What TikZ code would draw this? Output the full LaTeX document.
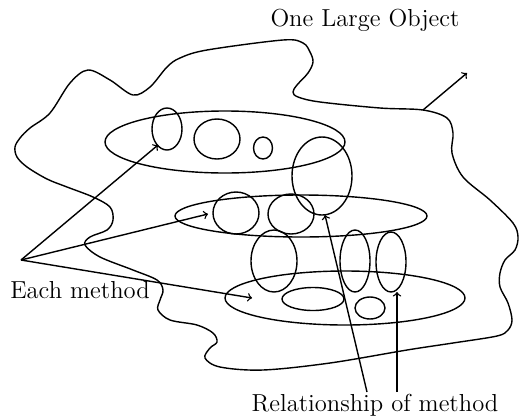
\documentclass[tikz,border=0pt]{standalone}
\usepackage{tikz}
\usetikzlibrary{shapes.geometric, positioning}

\begin{document}
\begin{tikzpicture}[>=to, x=0.02cm, y=-0.02cm, line width=0.8pt,
    lbl/.style={font=\fontsize{14}{17}\selectfont, inner sep=0pt}]
    \useasboundingbox (0,0) rectangle (520,416);

    % 1. The large object (free-hand outline)
    \draw plot[smooth cycle, tension=0.55] coordinates {
        (15,147) (20,138) (30,128) (50,113) (70,83) (88,70) (110,80)
        (133,95) (150,87) (167,67) (180,58) (207,50) (283,40) (303,43)
        (310,52) (313,62) (308,73) (297,85) (293,92) (298,97) (320,102)
        (380,108) (423,110) (447,118) (453,133) (452,153) (463,177)
        (490,200) (513,223) (518,237) (515,250) (505,260) (500,273)
        (500,287) (508,303) (512,320) (508,330) (497,336) (453,343)
        (407,350) (330,363) (263,370) (220,367) (205,358) (210,348)
        (217,342) (213,333) (197,325) (170,320) (158,310) (160,300)
        (163,290) (157,280) (133,270) (100,257) (85,245) (90,237)
        (107,230) (113,220) (110,207) (93,197) (67,187) (47,179)
        (27,167) (17,157)};
    \node[lbl] (obj) at (365,20) {One Large Object};
    \coordinate (objedge) at (423,110);
    \coordinate (objtip) at (467,73);
    \draw[->] (objedge) -- (objtip);

    % 2. The three methods (flat ellipses)
    \draw (225,142) ellipse [x radius=120, y radius=31];
    \draw (301,216) ellipse [x radius=126, y radius=21];
    \draw (345,298) ellipse [x radius=120, y radius=27];

    % 3. Parts inside each method
    \draw (167,129) ellipse [x radius=15, y radius=21];
    \draw (217,139) ellipse [x radius=23, y radius=20];
    \draw (263,148) ellipse [x radius=9.5, y radius=11];
    \draw (236,213) ellipse [x radius=23, y radius=21];
    \draw (291,214) ellipse [x radius=23, y radius=20];
    \draw (313,299) ellipse [x radius=31, y radius=11.5];
    \draw (370,308) ellipse [x radius=15, y radius=11];

    % 4. Relationships between methods
    \draw (322,176) ellipse [x radius=30, y radius=39];
    \draw (274,261) ellipse [x radius=23, y radius=31];
    \draw (355,261) ellipse [x radius=15, y radius=31];
    \draw (391,262) ellipse [x radius=15, y radius=30];

    % 5. Labels and pointers
    \node[lbl] (each) at (80,290) {Each method};
    \coordinate (src) at (21,260);
    \coordinate (m1) at (158,145);
    \coordinate (m2) at (208,214);
    \coordinate (m3) at (252,298);
    \draw[->] (src) -- (m1);
    \draw[->] (src) -- (m2);
    \draw[->] (src) -- (m3);

    \node[lbl] (rel) at (375,405) {Relationship of method};
    \coordinate (r1) at (367,392);
    \coordinate (r2) at (397,392);
    \coordinate (t1) at (325,215);
    \coordinate (t2) at (397,292);
    \draw[->] (r1) -- (t1);
    \draw[->] (r2) -- (t2);
\end{tikzpicture}
\end{document}
